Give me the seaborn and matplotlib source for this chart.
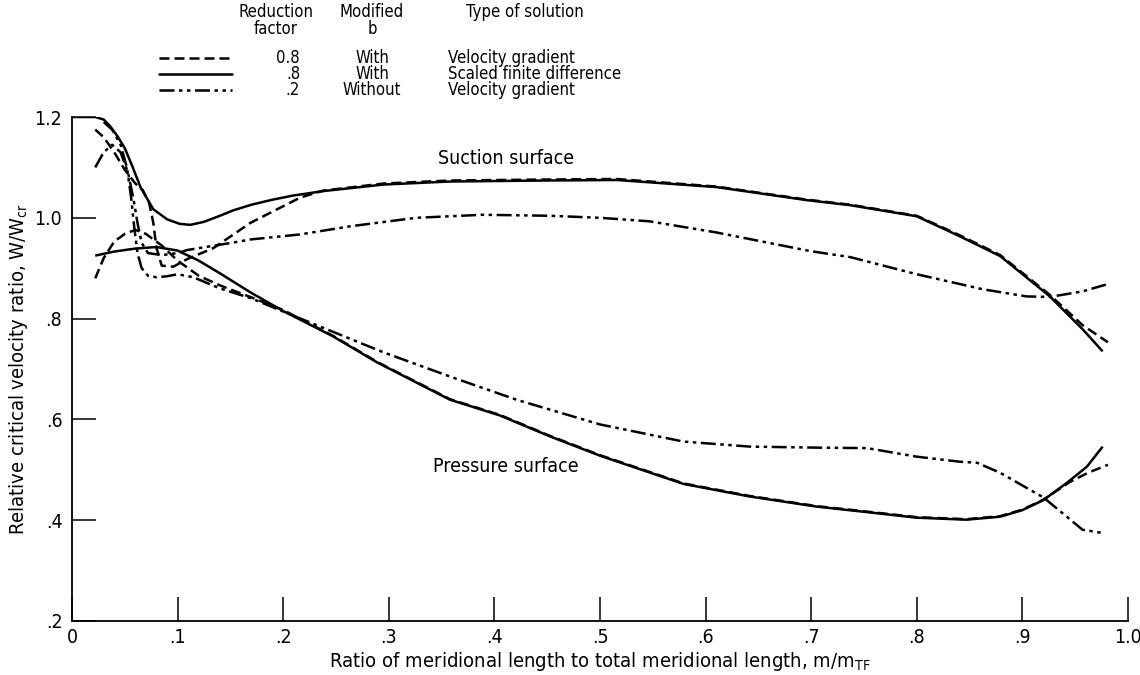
import matplotlib
matplotlib.use("Agg")
import matplotlib.pyplot as plt
from matplotlib import font_manager
import seaborn as sns
import pandas as pd

# ---------------- data ----------------
# Solid: reduction factor .8, with modified b, scaled finite difference
solid_suction_x = [0.0, 0.022, 0.03, 0.036, 0.043, 0.05, 0.057, 0.065, 0.077, 0.09, 0.102, 0.112,
                   0.125, 0.14, 0.153, 0.17, 0.19, 0.209, 0.238, 0.295, 0.358, 0.45, 0.516,
                   0.61, 0.696, 0.737, 0.80, 0.841, 0.879, 0.926, 0.957, 0.976]
solid_suction_y = [1.2, 1.2, 1.195, 1.182, 1.162, 1.138, 1.103, 1.06, 1.017, 0.997, 0.988, 0.986,
                   0.992, 1.004, 1.015, 1.026, 1.036, 1.044, 1.053, 1.066, 1.072, 1.074, 1.075,
                   1.061, 1.035, 1.025, 1.003, 0.963, 0.924, 0.844, 0.779, 0.735]
solid_pressure_x = [0.022, 0.04, 0.06, 0.08, 0.1, 0.12, 0.14, 0.169, 0.2, 0.247, 0.289, 0.358,
                    0.405, 0.453, 0.5, 0.579, 0.642, 0.705, 0.753, 0.80, 0.847, 0.879, 0.90,
                    0.92, 0.942, 0.961, 0.976]
solid_pressure_y = [0.925, 0.933, 0.939, 0.942, 0.935, 0.915, 0.89, 0.852, 0.815, 0.765, 0.713, 0.639,
                    0.608, 0.566, 0.528, 0.472, 0.447, 0.427, 0.416, 0.405, 0.401, 0.407, 0.42,
                    0.44, 0.474, 0.506, 0.546]

# Dashed: reduction factor 0.8, with modified b, velocity gradient
dashed_suction_x = [0.022, 0.03, 0.04, 0.05, 0.06, 0.067, 0.073, 0.077, 0.08, 0.085, 0.096, 0.109,
                    0.134, 0.169, 0.2, 0.216, 0.238, 0.295, 0.358, 0.45, 0.516, 0.61, 0.696,
                    0.737, 0.80, 0.841, 0.879, 0.926, 0.957, 0.981]
dashed_suction_y = [1.175, 1.16, 1.13, 1.095, 1.068, 1.055, 1.03, 0.99, 0.94, 0.905, 0.903, 0.918,
                    0.94, 0.99, 1.023, 1.04, 1.054, 1.068, 1.074, 1.076, 1.077, 1.062, 1.036,
                    1.026, 1.004, 0.965, 0.926, 0.847, 0.787, 0.753]
dashed_pressure_x = [0.022, 0.03, 0.04, 0.05, 0.06, 0.07, 0.085, 0.1, 0.12, 0.14, 0.17, 0.2,
                     0.247, 0.289, 0.358, 0.405, 0.453, 0.5, 0.579, 0.642, 0.705, 0.753, 0.80,
                     0.847, 0.879, 0.90, 0.92, 0.945, 0.962, 0.981]
dashed_pressure_y = [0.88, 0.92, 0.953, 0.968, 0.976, 0.968, 0.945, 0.915, 0.885, 0.866, 0.842, 0.817,
                     0.766, 0.714, 0.64, 0.609, 0.567, 0.529, 0.473, 0.448, 0.428, 0.417, 0.406,
                     0.402, 0.408, 0.421, 0.441, 0.476, 0.494, 0.51]

# Dash-dot: reduction factor .2, without modified b, velocity gradient
dashdot_suction_x = [0.022, 0.03, 0.038, 0.046, 0.053, 0.058, 0.062, 0.066, 0.072, 0.085, 0.1, 0.109,
                     0.153, 0.169, 0.216, 0.263, 0.326, 0.389, 0.453, 0.5, 0.547, 0.61, 0.699,
                     0.737, 0.80, 0.863, 0.904, 0.926, 0.957, 0.98]
dashdot_suction_y = [1.10, 1.13, 1.145, 1.13, 1.09, 1.04, 0.99, 0.95, 0.93, 0.926, 0.93, 0.936,
                     0.951, 0.957, 0.967, 0.983, 1.0, 1.006, 1.004, 1.0, 0.993, 0.971, 0.934,
                     0.922, 0.888, 0.858, 0.844, 0.843, 0.854, 0.868]
dashdot_pressure_x = [0.03, 0.038, 0.046, 0.052, 0.056, 0.059, 0.062, 0.066, 0.072, 0.08, 0.09, 0.1,
                      0.115, 0.14, 0.17, 0.2, 0.295, 0.358, 0.421, 0.5, 0.579, 0.642, 0.705,
                      0.753, 0.80, 0.841, 0.857, 0.879, 0.92, 0.942, 0.957, 0.975]
dashdot_pressure_y = [1.19, 1.175, 1.145, 1.1, 1.04, 0.98, 0.93, 0.9, 0.885, 0.882, 0.884, 0.888,
                      0.882, 0.86, 0.84, 0.814, 0.733, 0.685, 0.639, 0.59, 0.556, 0.546, 0.544,
                      0.543, 0.526, 0.516, 0.514, 0.494, 0.445, 0.407, 0.381, 0.375]

legend_factor = ["0.8", ".8", ".2"]
legend_modb = ["With", "With", "Without"]
legend_type = ["Velocity gradient", "Scaled finite difference", "Velocity gradient"]

x_ticks = [0.0, 0.1, 0.2, 0.3, 0.4, 0.5, 0.6, 0.7, 0.8, 0.9, 1.0]
x_ticklabels = ["0", ".1", ".2", ".3", ".4", ".5", ".6", ".7", ".8", ".9", "1.0"]
y_ticks = [0.2, 0.4, 0.6, 0.8, 1.0, 1.2]
y_ticklabels = [".2", ".4", ".6", ".8", "1.0", "1.2"]

# ---------------- font choice: a narrow sans if one is installed ----------------
sns.set_theme(style="white")
names = {f.name: f for f in font_manager.fontManager.ttflist}
narrow_stretch = "normal"
narrow_family = "DejaVu Sans"
narrow_ok = False
if "Liberation Sans Narrow" in names:
    narrow_family = "Liberation Sans Narrow"
    narrow_ok = True
else:
    for f in font_manager.fontManager.ttflist:
        if f.name == "DejaVu Sans" and ("Condensed" in f.fname) and f.style == "normal":
            narrow_stretch = "condensed"
            narrow_ok = True
            break
plt.rcParams["font.family"] = [narrow_family, "DejaVu Sans"]
plt.rcParams["font.stretch"] = narrow_stretch
plt.rcParams["text.color"] = "black"
plt.rcParams["axes.labelcolor"] = "black"
plt.rcParams["mathtext.fontset"] = "dejavusans"

FS_AX = 14 if narrow_ok else 13
FS_TICK = 14 if narrow_ok else 13
FS_LEG = 12 if narrow_ok else 10

LW = 1.8
DASHED = (4, 2)
DASHDOT = (6, 1.8, 1.4, 1.8, 1.4, 1.8)
SOLID = None

fig = plt.figure(figsize=(11.4, 6.75), dpi=100)
ax = fig.add_axes([72 / 1140, 1 - 621 / 675, (1128 - 72) / 1140, (621 - 117) / 675])

curves = [
    (solid_suction_x, solid_suction_y, SOLID),
    (solid_pressure_x, solid_pressure_y, SOLID),
    (dashed_suction_x, dashed_suction_y, DASHED),
    (dashed_pressure_x, dashed_pressure_y, DASHED),
    (dashdot_suction_x, dashdot_suction_y, DASHDOT),
    (dashdot_pressure_x, dashdot_pressure_y, DASHDOT),
]
for xs, ys, dash in curves:
    df = pd.DataFrame({"x": xs, "y": ys})
    sns.lineplot(data=df, x="x", y="y", sort=False, estimator=None, color="black",
                 linewidth=LW, ax=ax, legend=False)
    line = ax.lines[-1]
    if dash is not None:
        line.set_dashes(dash)
    line.set_solid_capstyle("butt")
    line.set_dash_capstyle("butt")

ax.set_xlim(0, 1.0)
ax.set_ylim(0.2, 1.2)
ax.set_xticks(x_ticks)
ax.set_xticklabels(x_ticklabels)
ax.set_yticks(y_ticks)
ax.set_yticklabels(y_ticklabels)
ax.tick_params(direction="in", length=17, width=1.1, colors="black", labelsize=FS_TICK,
               bottom=True, left=True)
ax.tick_params(axis="x", pad=5)
ax.tick_params(axis="y", pad=7)
for s in ["top", "right"]:
    ax.spines[s].set_visible(False)
for s in ["left", "bottom"]:
    ax.spines[s].set_color("black")
    ax.spines[s].set_linewidth(1.3)

ax.set_xlabel("Ratio of meridional length to total meridional length, m/m$_{\\mathrm{TF}}$",
              fontsize=14.5 if narrow_ok else 13.5, labelpad=2, color="black")
ax.set_ylabel("Relative critical velocity ratio, W/W$_{\\mathrm{cr}}$",
              fontsize=14.5 if narrow_ok else 13.5, labelpad=3, color="black")

ax.text(0.411, 1.117, "Suction surface", fontsize=FS_AX, ha="center", va="center", color="black")
ax.text(0.411, 0.506, "Pressure surface", fontsize=FS_AX, ha="center", va="center", color="black")

# ---------------- table-style legend ----------------
def fx(px):
    return px / 1140

def fy(py):
    return 1 - py / 675

fig.text(fx(276), fy(12), "Reduction", fontsize=FS_LEG, ha="center", va="center")
fig.text(fx(276), fy(29), "factor", fontsize=FS_LEG, ha="center", va="center")
fig.text(fx(372), fy(12), "Modified", fontsize=FS_LEG, ha="center", va="center")
fig.text(fx(372), fy(29), "b", fontsize=FS_LEG, ha="center", va="center")
fig.text(fx(525), fy(12), "Type of solution", fontsize=FS_LEG, ha="center", va="center")

row_y = [58, 74, 90]
styles = [DASHED, SOLID, DASHDOT]
for i, (fac, mb, tp) in enumerate(zip(legend_factor, legend_modb, legend_type)):
    yy = fy(row_y[i])
    ln = plt.Line2D([fx(159), fx(232)], [yy, yy], transform=fig.transFigure, color="black",
                    linewidth=LW)
    if styles[i] is not None:
        ln.set_dashes(styles[i])
    fig.add_artist(ln)
    fig.text(fx(300), yy, fac, fontsize=FS_LEG, ha="right", va="center")
    fig.text(fx(372), yy, mb, fontsize=FS_LEG, ha="center", va="center")
    fig.text(fx(448), yy, tp, fontsize=FS_LEG, ha="left", va="center")

fig.savefig("out.png", dpi=100, facecolor="white")
